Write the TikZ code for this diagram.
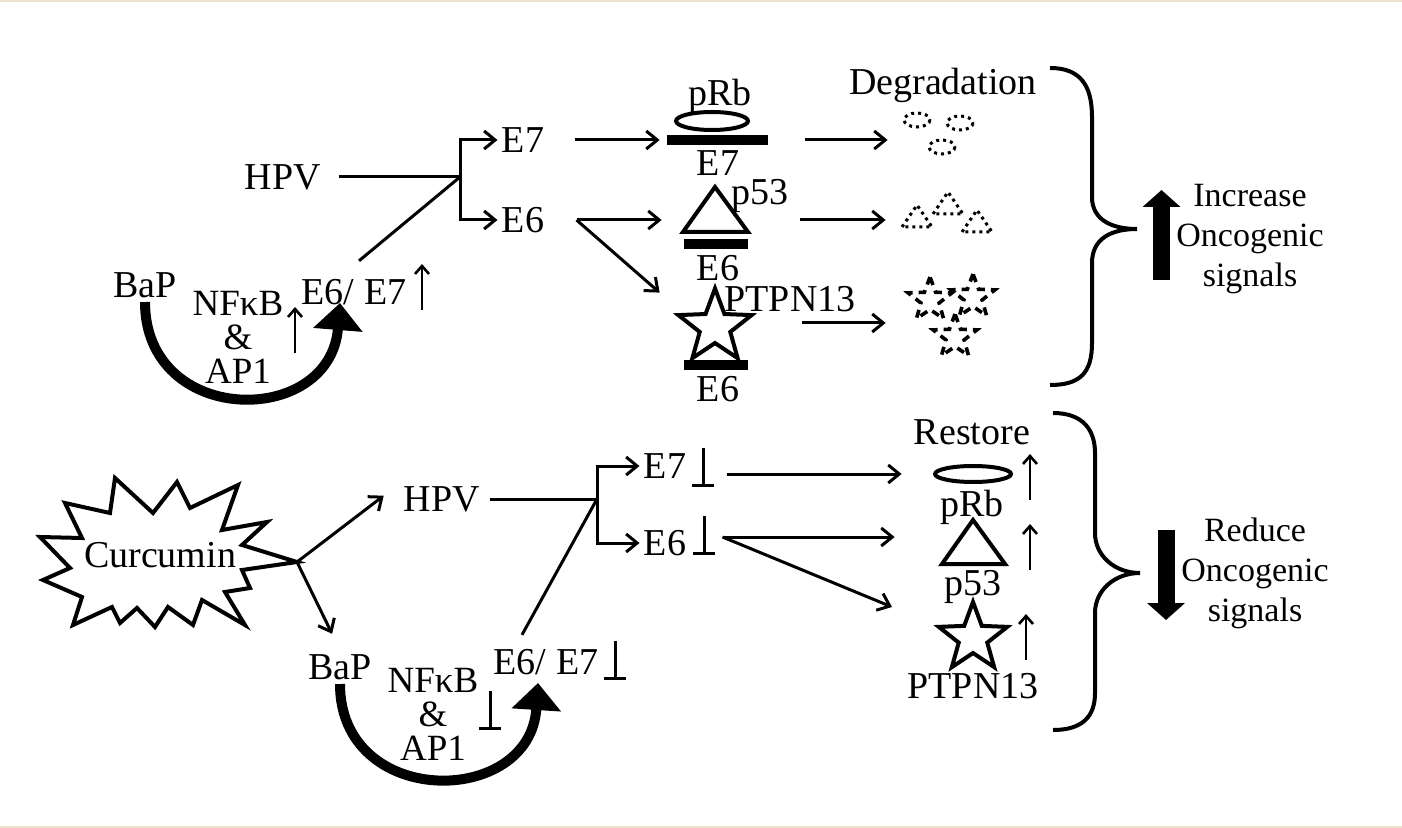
\documentclass[tikz,border=0pt]{standalone}
\usepackage{fontspec}
\setmainfont{Liberation Serif}
\usetikzlibrary{arrows.meta,positioning,shapes.geometric}

\definecolor{rimline}{RGB}{238,228,204}

\tikzset{
  lbl/.style={font=\fontsize{19}{19}\selectfont, inner sep=2pt},
  stack/.style={lbl, align=center, font=\fontsize{18.5}{17}\selectfont},
  sidetxt/.style={align=center, inner sep=0pt, font=\fontsize{17}{20}\selectfont},
  link/.style={line width=1.5pt},
  arr/.style={link, -{Straight Barb[length=5.5pt,width=9pt]}},
  uparr/.style={line width=1.3pt, -{Straight Barb[length=4pt,width=7pt]}},
  tack/.style={line width=1.5pt},
  bigarr/.style={line width=5pt, -{Triangle[length=13.5pt,width=24pt]}},
  blockarr/.style={line width=8.5pt, -{Triangle[length=8.5pt,width=18.5pt]}},
  slot/.style={inner sep=0pt, minimum height=20pt},
  bar/.style={fill=black, inner sep=0pt, minimum height=5pt},
  shp/.style={line width=2pt, miter limit=5},
  dotline/.style={line width=1.5pt, dash pattern=on 1.5pt off 2pt},
  starbox/.style={star, star points=5, star point ratio=2.4, draw, inner sep=0pt, line width=2pt},
  brokenstar/.style={starbox, minimum size=23pt, line width=1.8pt, dash pattern=on 4pt off 3pt},
  curly/.style={line width=2pt},
}

\begin{document}
\begin{tikzpicture}[x=0.5pt, y=-0.5pt]
\useasboundingbox (0,0) rectangle (1402,828);
\draw[rimline, line width=1pt] (0,1) -- (1402,1) (0,827) -- (1402,827);

% Upper half: BaP raises E6/E7 of HPV
\node[lbl] (hpvA) at (283,177) {HPV};
\coordinate (brA) at (460,177);
\node[lbl] (e7A) at (523,140) {E7};
\node[lbl] (e6A) at (523,220) {E6};
\node[lbl] (bapA) at (145,285) {BaP};
\node[stack] (nfA) at (238,337) {NFκB\\\&\\AP1};
\node[lbl] (e67A) at (354,292) {E6/ E7};
\coordinate (tipA) at (340,303);
\draw[link, shorten <=7pt] (hpvA) -- (brA);
\draw[arr] (brA) |- (e7A);
\draw[arr] (brA) |- (e6A);
\draw[link] ([xshift=2.5pt,yshift=7pt]e67A.north) -- (brA);
\draw[bigarr] (bapA.south) .. controls +(0,125) and +(-10,125) .. (tipA);

% complexes with E7 / E6
\node[bar, minimum width=50.5pt] (barRb) at (717,140) {};
\draw[shp] (712,121) ellipse [x radius=36, y radius=9];
\node[lbl] (pRbA) at (720,96) {pRb};
\node[lbl] (e7cx) at (718,163) {E7};
\draw[shp] (715,187) -- (748,232) -- (683,232) -- cycle;
\node[bar, minimum width=32pt] (barP53) at (716,244) {};
\node[lbl] (p53A) at (760,196) {p53};
\node[lbl] (e6cxA) at (718,268) {E6};
\node[starbox, minimum size=38.5pt] (starA) at (715,327) {};
\node[bar, minimum width=32pt] (barPt) at (716,365) {};
\node[lbl] (ptA) at (790,299) {PTPN13};
\node[lbl] (e6cxB) at (718,389) {E6};

\node[slot, minimum width=72.5pt] (cxRb) at (732.5,140) {};
\node[slot, minimum width=69pt] (cxP53) at (731,220) {};
\node[slot, minimum width=71pt, minimum height=30pt] (cxPt) at (731,323) {};
\node[slot, minimum width=52pt] (dgRb) at (940,140) {};
\node[slot, minimum width=54pt] (dgP53) at (940,220) {};
\node[slot, minimum width=54pt] (dgPt) at (940,323) {};
\coordinate (e6Asplit) at ([xshift=14pt]e6A.east);
\draw[arr, shorten <=13pt] (e7A) -- (cxRb);
\draw[arr] (e6Asplit) -- (cxP53);
\draw[arr] (e6Asplit) -- (cxPt.north west);
\draw[arr] (cxRb) -- (dgRb);
\draw[arr] (cxP53) -- (dgP53);
\draw[arr] (cxPt) -- (dgPt);

% degraded proteins
\node[lbl] (degr) at (943,85) {Degradation};
\foreach \x/\y in {917/120, 960/123, 942/147}
  \draw[dotline] (\x,\y) ellipse [x radius=13, y radius=7];
\foreach \x/\y in {917/227, 948/214, 977/232}
  \draw[dotline] (\x-15,\y) -- (\x,\y-22) -- (\x+15,\y) -- cycle;
\foreach \x/\y in {930/300, 973/297, 955/337}
  \node[brokenstar] at (\x,\y) {};

% Lower half: curcumin blocks HPV and BaP
\draw[shp] (297,562) -- (242,545) -- (267,522) -- (222,530) -- (238,485) -- (190,508)
  -- (177,482) -- (153,513) -- (115,478) -- (110,513) -- (65,503) -- (82,538)
  -- (40,537) -- (70,568) -- (43,580) -- (82,597) -- (73,625) -- (112,607)
  -- (120,623) -- (137,608) -- (155,627) -- (168,607) -- (193,625) -- (202,600)
  -- (245,625) -- (225,592) -- (250,588) -- (242,570) -- cycle;
\node[lbl] (curc) at (160,555) {Curcumin};
\coordinate (curTip) at (297,562);
\node[lbl] (hpvB) at (442,499) {HPV};
\node[lbl] (bapB) at (340,667) {BaP};
\draw[arr, shorten >=10pt] (curTip) -- (hpvB.160);
\draw[arr, shorten >=9pt] (curTip) -- (bapB.north);

\coordinate (brB) at (597,499);
\node[lbl] (e7B) at (665,466) {E7};
\node[lbl] (e6B) at (665,543) {E6};
\draw[link, shorten <=3pt] (hpvB) -- (brB);
\draw[arr] (brB) |- (e7B);
\draw[arr] (brB) |- (e6B);
\node[stack] (nfB) at (433,714) {NFκB\\\&\\AP1};
\node[lbl] (e67B) at (546,662) {E6/ E7};
\coordinate (tipB) at (538,683);
\draw[link] ([xshift=-12pt,yshift=5pt]e67B.north) -- (brB);
\draw[bigarr] (bapB.south) .. controls +(0,125) and +(-8,125) .. (tipB);

% restored proteins
\node[lbl] (rest) at (972,432) {Restore};
\draw[shp] (973,474) ellipse [x radius=38, y radius=8];
\node[lbl] (pRbB) at (972,507) {pRb};
\draw[shp] (973,520) -- (1005,564) -- (942,564) -- cycle;
\node[lbl] (p53B) at (973,587) {p53};
\node[starbox, minimum size=36pt] (starB) at (973,638) {};
\node[lbl] (ptB) at (973,686) {PTPN13};
\node[slot, minimum width=71pt] (rsRb) at (973,474) {};
\node[slot, minimum width=78pt] (rsP53) at (973,537) {};
\coordinate (rsPt) at (892,607);
\coordinate (e6Bsplit) at ([xshift=16pt,yshift=3pt]e6B.east);
\draw[arr] ([xshift=18pt,yshift=-4pt]e7B.east) -- (rsRb);
\draw[arr] (e6Bsplit) -- (rsP53);
\draw[arr] (e6Bsplit) -- (rsPt);

% up and down marks
\foreach \x/\y in {295/353, 422/310, 1030/500, 1030/570, 1026/660}
  \draw[uparr] (\x,\y) -- (\x,\y-46);
\foreach \x/\y in {703/485, 704/553, 490/728, 615/678}
  \draw[tack] (\x,\y-37) -- (\x,\y) (\x-11,\y) -- (\x+11,\y);

% braces and outcome
\draw[curly] (1050,68) .. controls (1080,68) and (1092,85) .. (1092,117) -- (1092,197)
  .. controls (1092,220) and (1112,229) .. (1137,229)
  .. controls (1112,229) and (1092,238) .. (1092,263) -- (1092,343)
  .. controls (1092,373) and (1080,385) .. (1050,385);
\draw[curly] (1053,413) .. controls (1083,413) and (1095,430) .. (1095,453) -- (1095,533)
  .. controls (1095,556) and (1115,573) .. (1140,573)
  .. controls (1115,573) and (1095,590) .. (1095,613) -- (1095,693)
  .. controls (1095,716) and (1083,730) .. (1053,730);
\draw[blockarr] (1161.5,280) -- (1161.5,190);
\draw[blockarr] (1166,530) -- (1166,620);
\node[sidetxt] (incr) at (1250,239) {Increase\\Oncogenic\\signals};
\node[sidetxt] (redu) at (1255,573) {Reduce\\Oncogenic\\signals};

\end{tikzpicture}
\end{document}
